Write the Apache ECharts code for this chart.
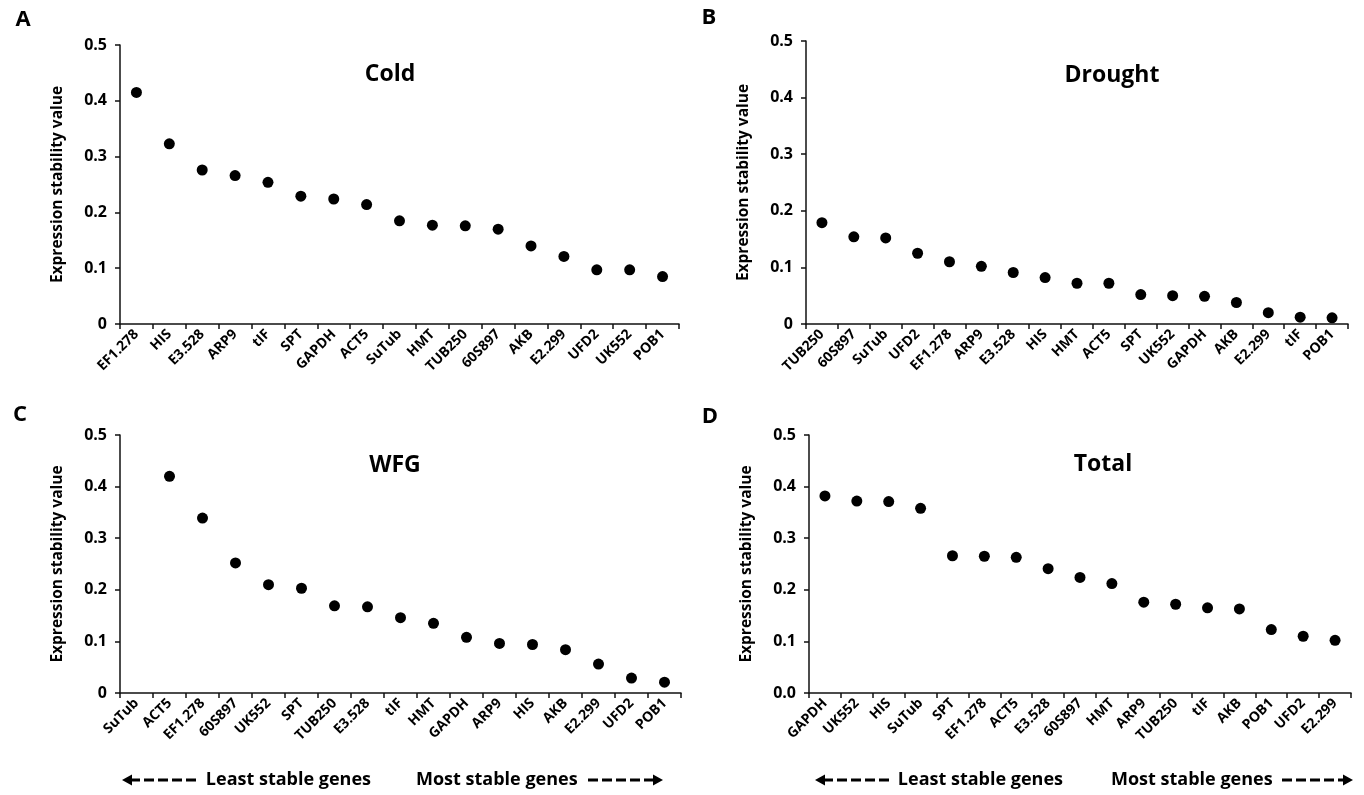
<!DOCTYPE html>
<html><head><meta charset="utf-8">
<script src="https://cdn.jsdelivr.net/npm/echarts@6/dist/echarts.min.js"></script>
<style>html,body{margin:0;padding:0;background:#fff}#c{width:1364px;height:795px}</style>
</head><body><div id="c"></div>
<script>
const catsA = ['EF1.278','HIS','E3.528','ARP9','tIF','SPT','GAPDH','ACT5','SuTub','HMT','TUB250','60S897','AKB','E2.299','UFD2','UK552','POB1'];
const valsA = [0.415,0.323,0.276,0.266,0.254,0.229,0.224,0.214,0.185,0.177,0.176,0.170,0.140,0.121,0.097,0.097,0.085];
const catsB = ['TUB250','60S897','SuTub','UFD2','EF1.278','ARP9','E3.528','HIS','HMT','ACT5','SPT','UK552','GAPDH','AKB','E2.299','tIF','POB1'];
const valsB = [0.179,0.154,0.152,0.125,0.110,0.102,0.091,0.082,0.072,0.072,0.052,0.050,0.049,0.038,0.020,0.012,0.011];
const catsC = ['SuTub','ACT5','EF1.278','60S897','UK552','SPT','TUB250','E3.528','tIF','HMT','GAPDH','ARP9','HIS','AKB','E2.299','UFD2','POB1'];
const valsC = [null,0.420,0.339,0.252,0.210,0.203,0.169,0.167,0.146,0.135,0.108,0.096,0.094,0.084,0.056,0.029,0.021];
const catsD = ['GAPDH','UK552','HIS','SuTub','SPT','EF1.278','ACT5','E3.528','60S897','HMT','ARP9','TUB250','tIF','AKB','POB1','UFD2','E2.299'];
const valsD = [0.382,0.372,0.371,0.358,0.266,0.265,0.263,0.241,0.224,0.212,0.176,0.172,0.165,0.163,0.123,0.110,0.102];
const panelTitles = ['Cold','Drought','WFG','Total'];
const panelLetters = ['A','B','C','D'];
const yTicksABC = ['0','0.1','0.2','0.3','0.4','0.5'];
const yTicksD = ['0.0','0.1','0.2','0.3','0.4','0.5'];
const yTitle = 'Expression stability value';
const leastLabel = 'Least stable genes';
const mostLabel = 'Most stable genes';

const FONT = '"Open Sans", Lato, sans-serif';
const INK = '#000';
const AX = '#111';

const cats = [catsA, catsB, catsC, catsD];
const vals = [valsA, valsB, valsC, valsD];
const ticks = [yTicksABC, yTicksABC, yTicksABC, yTicksD];

const grids = [
  {left:120, top:45, width:559, height:279},
  {left:806, top:41, width:542, height:283},
  {left:120, top:435, width:561, height:258},
  {left:809, top:435, width:542, height:258}
];
const titlePos = [[390,74],[1112,75],[395,465],[1103,464]];
const letterPos = [[23,20],[709,18],[20,415],[710,417]];

const xAxis = [], yAxis = [], series = [];
for (let i = 0; i < 4; i++) {
  xAxis.push({
    type:'category', gridIndex:i, data:cats[i], boundaryGap:true,
    axisLine:{show:true, lineStyle:{color:AX, width:1.5}},
    axisTick:{show:true, length:5, lineStyle:{color:AX, width:1.5}},
    axisLabel:{rotate:45, interval:0, margin:8, color:INK, fontSize:14, fontWeight:'bold', fontFamily:FONT},
    splitLine:{show:false}
  });
  const tk = ticks[i];
  yAxis.push({
    type:'value', gridIndex:i, min:0, max:0.5, interval:0.1,
    axisLine:{show:true, lineStyle:{color:AX, width:1.5}},
    axisTick:{show:true, length:5, lineStyle:{color:AX, width:1.5}},
    axisLabel:{margin:13, color:INK, fontSize:16, fontWeight:'bold', fontFamily:FONT,
      formatter: v => tk[Math.round(v*10)]},
    splitLine:{show:false},
    name: yTitle, nameLocation:'middle', nameGap:54,
    nameTextStyle:{color:INK, fontSize:15.5, fontWeight:'bold', fontFamily:FONT}
  });
  series.push({
    type:'scatter', xAxisIndex:i, yAxisIndex:i,
    data: vals[i].map(v => v === null ? '-' : v),
    symbol:'circle', symbolSize:11, itemStyle:{color:INK, opacity:1}, silent:true
  });
}

const graphic = [];
for (let i = 0; i < 4; i++) {
  graphic.push({type:'text', x:titlePos[i][0], y:titlePos[i][1],
    style:{text:panelTitles[i], fill:INK, fontSize:23, fontWeight:'bold', fontFamily:FONT,
      align:'center', verticalAlign:'middle', textAlign:'center', textVerticalAlign:'middle'}});
  graphic.push({type:'text', x:letterPos[i][0], y:letterPos[i][1],
    style:{text:panelLetters[i], fill:INK, fontSize:22, fontWeight:'bold', fontFamily:FONT,
      align:'center', verticalAlign:'middle', textAlign:'center', textVerticalAlign:'middle'}});
}
function arrowGroup(tipL, dashEndL, textLEnd, textRStart, dashStartR, tipR, y) {
  const els = [];
  els.push({type:'polygon', shape:{points:[[tipL,y],[tipL+10,y-5.5],[tipL+10,y+5.5]]}, style:{fill:INK}});
  els.push({type:'line', shape:{x1:tipL+8, y1:y, x2:dashEndL, y2:y}, style:{stroke:INK, lineWidth:3, lineDash:[10,4]}});
  els.push({type:'text', x:textLEnd, y:y, style:{text:leastLabel, fill:INK, fontSize:18, fontWeight:'bold', fontFamily:FONT,
    align:'right', verticalAlign:'middle', textAlign:'right', textVerticalAlign:'middle'}});
  els.push({type:'text', x:textRStart, y:y, style:{text:mostLabel, fill:INK, fontSize:18, fontWeight:'bold', fontFamily:FONT,
    align:'left', verticalAlign:'middle', textAlign:'left', textVerticalAlign:'middle'}});
  els.push({type:'line', shape:{x1:dashStartR, y1:y, x2:tipR-8, y2:y}, style:{stroke:INK, lineWidth:3, lineDash:[10,4]}});
  els.push({type:'polygon', shape:{points:[[tipR,y],[tipR-10,y-5.5],[tipR-10,y+5.5]]}, style:{fill:INK}});
  return els;
}
arrowGroup(122, 200, 371, 416, 588, 663, 780).forEach(e => graphic.push(e));
arrowGroup(815, 889, 1063, 1111, 1282, 1353, 780).forEach(e => graphic.push(e));

const chart = echarts.init(document.getElementById('c'), null, {renderer:'canvas'});
chart.setOption({
  animation:false,
  backgroundColor:'#fff',
  grid: grids.map(g => Object.assign({containLabel:false}, g)),
  xAxis, yAxis, series, graphic
});
</script></body></html>
